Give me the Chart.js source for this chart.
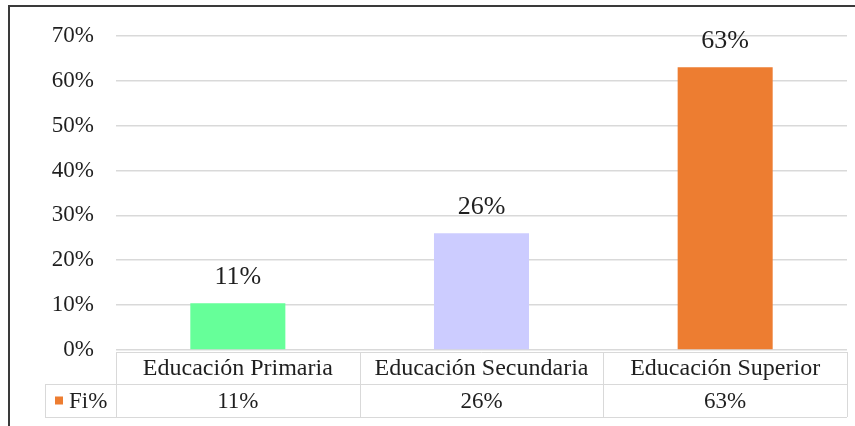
<!DOCTYPE html>
<html>
<head>
<meta charset="utf-8">
<script src="https://cdn.jsdelivr.net/npm/chart.js@4"></script>
<style>
  html, body { margin: 0; padding: 0; background: #fff; }
  #wrap { position: relative; width: 855px; height: 426px; overflow: hidden; }
  #frame { position: absolute; left: 8px; top: 5px; width: 900px; height: 500px;
           border-left: 2px solid #3a3a3a; border-top: 2px solid #3a3a3a; }
  canvas { position: absolute; left: 0; top: 0; }
</style>
</head>
<body>
<div id="wrap">
  <div id="frame"></div>
  <canvas id="chart" width="855" height="426"></canvas>
</div>
<script>
// datos
const categories = ['Educación Primaria', 'Educación Secundaria', 'Educación Superior'];
const barValues = [10.4, 26, 63];          // altura de barra (%)
const labelTexts = ['11%', '26%', '63%'];  // etiquetas y tabla
const barColors = ['#66FF99', '#CCCCFF', '#ED7D31'];
const seriesName = 'Fi%';
const yTicks = [0, 10, 20, 30, 40, 50, 60, 70];

const FONT = '"Liberation Serif", "DejaVu Serif", serif';
const TEXT = '#1f1f1f';
const LINE = '#d9d9d9';

const labelsPlugin = {
    id: 'barLabels',
    afterDatasetsDraw(chart) {
        const ctx = chart.ctx;
        const meta = chart.getDatasetMeta(0);
        ctx.save();
        ctx.font = '26px ' + FONT;
        ctx.fillStyle = TEXT;
        ctx.textAlign = 'center';
        ctx.textBaseline = 'middle';
        meta.data.forEach((bar, i) => {
            ctx.fillText(labelTexts[i], bar.x, bar.y - 26);
        });
        ctx.restore();
    }
};

const tablePlugin = {
    id: 'dataTable',
    afterDraw(chart) {
        const ctx = chart.ctx;
        const area = chart.chartArea;
        const xs = chart.scales.x;
        const colW = (area.right - area.left) / categories.length;
        const y0 = area.bottom + 2, y1 = y0 + 32, y2 = y1 + 33;
        const left = 45;

        ctx.save();
        ctx.strokeStyle = LINE;
        ctx.lineWidth = 1;
        ctx.beginPath();
        ctx.moveTo(area.left, y0 + 0.5); ctx.lineTo(area.right, y0 + 0.5);
        ctx.moveTo(left, y1 + 0.5); ctx.lineTo(area.right, y1 + 0.5);
        ctx.moveTo(left, y2 + 0.5); ctx.lineTo(area.right, y2 + 0.5);
        ctx.moveTo(left + 0.5, y1); ctx.lineTo(left + 0.5, y2);
        for (let i = 0; i <= categories.length; i++) {
            const x = Math.round(area.left + i * colW) + 0.5;
            ctx.moveTo(x, y0); ctx.lineTo(x, y2);
        }
        ctx.stroke();

        ctx.fillStyle = TEXT;
        ctx.textAlign = 'center';
        ctx.textBaseline = 'middle';
        ctx.font = '24px ' + FONT;
        categories.forEach((c, i) => {
            const cx = xs.getPixelForValue(i);
            ctx.fillText(c, cx, (y0 + y1) / 2 + 1);
        });
        ctx.font = '23px ' + FONT;
        labelTexts.forEach((t, i) => {
            const cx = xs.getPixelForValue(i);
            ctx.fillText(t, cx, (y1 + y2) / 2 + 1);
        });

        // leyenda de la serie
        ctx.fillStyle = barColors[2];
        ctx.fillRect(55, (y1 + y2) / 2 - 4, 8, 8);
        ctx.fillStyle = TEXT;
        ctx.textAlign = 'left';
        ctx.fillText(seriesName, 69, (y1 + y2) / 2 + 1);
        ctx.restore();
    }
};

new Chart(document.getElementById('chart').getContext('2d'), {
    type: 'bar',
    data: {
        labels: categories,
        datasets: [{
            label: seriesName,
            data: barValues,
            backgroundColor: barColors,
            borderWidth: 0,
            barPercentage: 0.39,
            categoryPercentage: 1
        }]
    },
    options: {
        responsive: false,
        animation: false,
        layout: { padding: { left: 0, right: 8, top: 31, bottom: 76 } },
        plugins: {
            legend: { display: false },
            tooltip: { enabled: false }
        },
        scales: {
            x: { display: false },
            y: {
                min: 0,
                max: 70,
                afterFit(scale) { scale.width = 116; },
                afterBuildTicks(scale) { scale.ticks = yTicks.map(v => ({ value: v })); },
                border: { display: false },
                grid: { color: LINE, drawTicks: false, lineWidth: 1.5 },
                ticks: {
                    padding: 22,
                    color: TEXT,
                    font: { family: FONT, size: 23 },
                    callback: v => v + '%'
                }
            }
        }
    },
    plugins: [labelsPlugin, tablePlugin]
});
</script>
</body>
</html>
